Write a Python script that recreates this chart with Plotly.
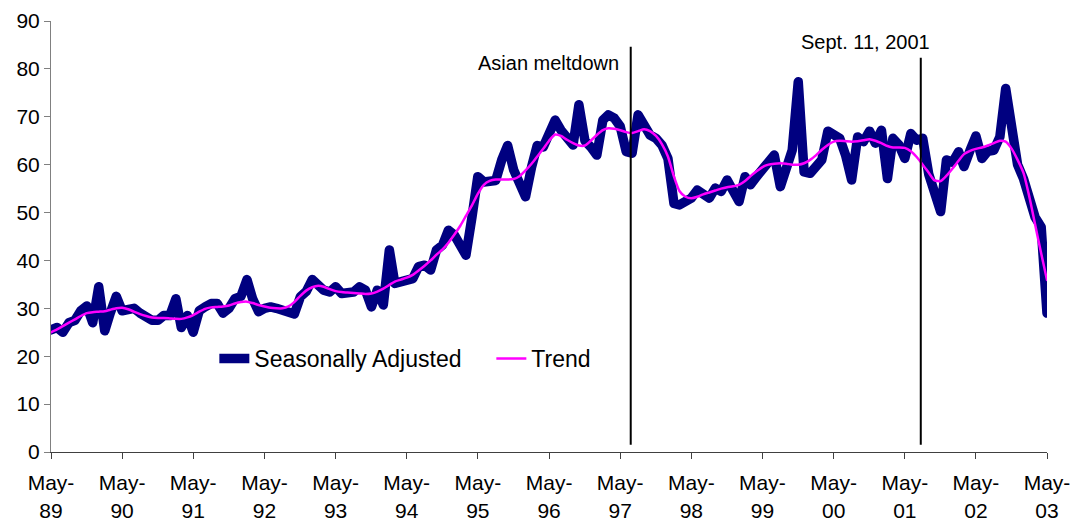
import pandas as pd
import plotly.graph_objects as go

# Monthly index, May 1989 - May 2003
start_month = "1989-05-01"
n_months = 169
months = pd.date_range(start_month, periods=n_months, freq="MS")

seasonally_adjusted = [
    25.5, 26.0, 25.0, 27.0, 27.5, 29.5, 30.5, 27.0, 34.5, 25.3, 29.0, 32.5,
    29.5, 30.0, 30.0, 29.0, 28.0, 27.5, 27.5, 28.5, 28.5, 32.0, 26.0, 28.5,
    25.0, 29.5, 30.3, 31.0, 31.0, 29.0, 30.0, 32.0, 32.5, 36.0, 32.0, 29.3,
    30.0, 30.3, 30.0, 29.6, 29.5, 28.8, 32.4, 33.5, 36.0, 34.5, 33.8, 33.4,
    34.5, 33.1, 33.1, 33.4, 34.5, 33.8, 30.3, 33.8, 30.7, 42.2, 35.2, 35.5,
    35.9, 36.2, 38.7, 39.0, 38.0, 42.2, 43.2, 46.3, 45.3, 43.0, 41.1, 49.0,
    57.5, 56.4, 56.4, 56.7, 61.0, 64.0, 58.9, 56.0, 53.3, 59.5, 64.0, 63.7,
    66.9, 69.3, 67.2, 65.5, 64.1, 72.5, 65.0, 63.7, 62.0, 69.3, 70.4, 69.7,
    68.0, 62.7, 62.4, 70.4, 68.6, 66.2, 65.5, 64.1, 61.3, 51.9, 51.6, 52.3,
    53.0, 54.7, 54.0, 53.0, 55.1, 54.4, 56.8, 54.7, 52.3, 57.5, 55.8, 57.5,
    59.2, 60.3, 62.0, 55.4, 59.0, 63.0, 77.3, 58.5, 58.2, 59.5, 61.0, 67.0,
    66.0, 65.5, 62.0, 56.8, 65.8, 64.8, 67.0, 64.5, 67.2, 57.1, 65.5, 64.1,
    61.3, 66.5, 65.1, 65.5, 58.0, 54.0, 50.2, 61.0, 60.5, 62.7, 59.6, 63.0,
    66.0, 61.3, 62.8, 63.0, 65.8, 75.9, 66.0, 60.0, 57.0, 51.8, 49.0, 47.0,
    29.0,
]

trend = [
    25.0, 25.6, 26.3, 27.0, 27.7, 28.4, 29.0, 29.2, 29.3, 29.4, 29.7, 30.0,
    30.1, 29.8, 29.3, 28.8, 28.4, 28.1, 28.0, 28.0, 27.9, 27.8, 27.8, 28.1,
    28.6, 29.3, 29.9, 30.2, 30.3, 30.4, 30.6, 31.0, 31.3, 31.4, 31.1, 30.7,
    30.4, 30.1, 30.0, 30.0, 30.4, 31.3, 32.6, 33.7, 34.4, 34.7, 34.5, 34.0,
    33.6, 33.4, 33.3, 33.2, 33.1, 33.0, 33.1, 33.5, 34.1, 34.9, 35.6, 36.0,
    36.4, 37.0, 37.9, 38.9, 40.0, 41.2, 42.3, 43.7, 45.4, 47.3, 49.3, 51.5,
    53.9, 55.8, 56.6, 56.9, 56.9, 56.9, 57.0, 57.6, 58.8, 60.2, 61.7, 63.3,
    65.0, 66.3, 66.0, 65.2, 64.5, 64.0, 64.0, 65.0, 66.2, 67.2, 67.6, 67.5,
    67.2, 66.8, 66.6, 67.0, 67.4, 67.0, 66.0, 64.3, 61.7, 57.5, 54.5, 53.3,
    53.0, 53.3, 53.8, 54.2, 54.6, 55.0, 55.3, 55.5, 55.8, 56.6, 57.6, 58.6,
    59.5, 60.0, 60.2, 60.3, 60.2, 60.0, 60.0, 60.3, 61.0, 62.0, 63.1, 64.1,
    64.8, 65.0, 64.9, 64.8, 64.9, 65.1, 65.3, 65.0, 64.5, 63.9, 63.6, 63.6,
    63.5, 62.8, 61.6, 60.0, 58.3, 56.7, 56.6, 57.7, 59.2, 60.8, 62.2, 62.9,
    63.3, 63.6, 64.0, 64.5, 65.0, 64.8, 63.3, 61.0, 58.2, 53.0, 47.5, 41.5,
    35.9,
]

# Yearly May ticks
tick_dates = pd.date_range(start_month, periods=15, freq="12MS")
tick_labels = [f"May-<br>{d.strftime('%y')}" for d in tick_dates]

# Event markers: label, date of the vertical rule, top of the rule
event_labels = ["Asian meltdown", "Sept. 11, 2001"]
event_dates = ["1997-06-24", "2001-07-22"]
event_tops = [84.6, 82.3]

FONT = "Arial, 'Liberation Sans', sans-serif"

fig = go.Figure()
fig.add_trace(go.Scatter(
    x=months, y=seasonally_adjusted, mode="lines", name="Seasonally Adjusted",
    line=dict(color="#000080", width=9.5),
))
fig.add_trace(go.Scatter(
    x=months, y=trend, mode="lines", name="Trend",
    line=dict(color="#FF00FF", width=2.5, shape="spline", smoothing=0.6),
))

for d, top in zip(event_dates, event_tops):
    fig.add_shape(type="line", xref="x", yref="y", x0=d, x1=d, y0=1.5, y1=top,
                  line=dict(color="black", width=2))

fig.add_annotation(x=event_dates[0], y=81.2, xref="x", yref="y",
                   text=event_labels[0], showarrow=False,
                   xanchor="right", xshift=-10, yanchor="middle",
                   font=dict(family=FONT, size=20, color="black"))
fig.add_annotation(x=event_dates[1], y=85.6, xref="x", yref="y",
                   text=event_labels[1], showarrow=False,
                   xanchor="right", xshift=11, yanchor="middle",
                   font=dict(family=FONT, size=20, color="black"))

fig.update_layout(
    width=1073, height=522,
    margin=dict(l=51, r=26, t=21, b=70, autoexpand=False),
    paper_bgcolor="white", plot_bgcolor="white",
    font=dict(family=FONT, size=21, color="black"),
    showlegend=True,
    legend=dict(orientation="h", x=0.164, y=0.217, xanchor="left", yanchor="middle",
                bgcolor="rgba(0,0,0,0)", font=dict(family=FONT, size=23, color="black"),
                entrywidth=232, entrywidthmode="pixels"),
    xaxis=dict(
        type="date", range=[months[0], months[-1]], automargin=False,
        tickmode="array", tickvals=tick_dates, ticktext=tick_labels,
        ticks="outside", ticklen=6, tickcolor="#404040",
        ticklabelstandoff=6,
        showline=True, linecolor="#404040", linewidth=1,
        showgrid=False, zeroline=False,
        tickfont=dict(family=FONT, size=21, color="black"),
    ),
    yaxis=dict(
        range=[0, 90], tickmode="linear", tick0=0, dtick=10, automargin=False,
        ticks="outside", ticklen=6, tickcolor="#808080",
        showline=True, linecolor="#808080", linewidth=1,
        showgrid=False, zeroline=False,
        tickfont=dict(family=FONT, size=21, color="black"),
    ),
)

# Rounded joins on the series lines
round_joins = """
var gd = document.getElementById('{plot_id}');
function roundLines() {
  gd.querySelectorAll('.scatterlayer path.js-line').forEach(function (p) {
    p.style.strokeLinejoin = 'round';
    p.style.strokeLinecap = 'round';
  });
}
roundLines();
gd.on('plotly_afterplot', roundLines);
"""

fig.write_html("out.html", post_script=round_joins)
